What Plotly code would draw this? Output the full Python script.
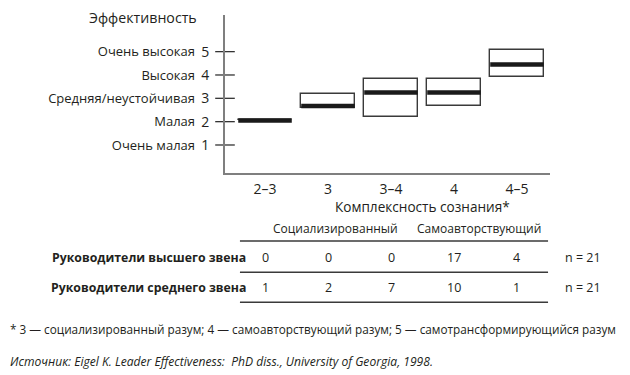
import plotly.graph_objects as go

# ---------------- data ----------------
categories = ["2–3", "3", "3–4", "4", "4–5"]
box_low = [2.05, 2.58, 2.21, 2.68, 3.91]
box_high = [2.05, 3.18, 3.83, 3.83, 5.06]
median = [2.05, 2.67, 3.25, 3.25, 4.45]

level_values = [1, 2, 3, 4, 5]
level_numbers = ["1", "2", "3", "4", "5"]
level_names = ["Очень малая", "Малая", "Средняя/неустойчивая", "Высокая", "Очень высокая"]

y_title = "Эффективность"
x_title = "Комплексность сознания*"

table_groups = ["Социализированный", "Самоавторствующий"]
row_labels = ["Руководители высшего звена", "Руководители среднего звена"]
senior_counts = [0, 0, 0, 17, 4]
middle_counts = [1, 2, 7, 10, 1]
n_labels = ["n = 21", "n = 21"]

footnote = "* 3 — социализированный разум; 4 — самоавторствующий разум; 5 — самотрансформирующийся разум"
source = "Источник: Eigel K. Leader Effectiveness:  PhD diss., University of Georgia, 1998."

# ---------------- style ----------------
FONT = "Open Sans"
TXT = "#231f20"
AXIS = "#7f7f7f"
BOX_W = 0.85
X_RANGE = [-0.635, 4.524]
Y_RANGE = [-0.2, 6.57]

idx = list(range(len(categories)))

fig = go.Figure()

# boxes
fig.add_trace(go.Bar(
    x=idx, y=[h - l for h, l in zip(box_high, box_low)], base=box_low,
    width=BOX_W, marker=dict(color="white", line=dict(color="#3a3a3a", width=1.4)),
    showlegend=False, hoverinfo="skip",
))

# median bars
mx, my = [], []
for i, m in zip(idx, median):
    mx += [i - BOX_W / 2, i + BOX_W / 2, None]
    my += [m, m, None]
fig.add_trace(go.Scatter(x=mx, y=my, mode="lines",
                         line=dict(color="#1a1a1a", width=4.5),
                         showlegend=False, hoverinfo="skip"))

# tick marks crossing the y axis
fig.add_trace(go.Scatter(
    x=[X_RANGE[0]] * len(level_values), y=level_values, mode="markers",
    marker=dict(symbol="line-ew", size=14, line=dict(color="#333333", width=1.3)),
    cliponaxis=False, showlegend=False, hoverinfo="skip", yaxis="y2",
))

# arrow head on the y axis
fig.add_trace(go.Scatter(
    x=[X_RANGE[0]], y=[6.6], mode="markers",
    marker=dict(symbol="triangle-up", size=10, color="#111111"),
    cliponaxis=False, showlegend=False, hoverinfo="skip",
))

annotations = []
def ann(text, x, y, xref="paper", yref="paper", xanchor="center", size=13,
        bold=False, italic=False):
    t = text
    if bold:
        t = "<b>" + t + "</b>"
    if italic:
        t = "<i>" + t + "</i>"
    annotations.append(dict(text=t, x=x, y=y, xref=xref, yref=yref,
                            xanchor=xanchor, yanchor="middle", showarrow=False,
                            borderpad=0,
                            font=dict(family=FONT, size=size, color=TXT)))

# titles
ann(y_title, -0.252, 0.984, size=14.2)
ann(x_title, 0.608, -0.209, size=13.6)

# table
ann(table_groups[0], 0.34, -0.354, size=12)
ann(table_groups[1], 0.783, -0.354, size=12)
row_y = [-0.535, -0.725]
for r, (lab, vals) in enumerate(zip(row_labels, [senior_counts, middle_counts])):
    ann(lab, 0.068, row_y[r], xanchor="right", size=12.3, bold=True)
    for i, v in zip(idx, vals):
        ann(str(v), i, row_y[r], xref="x", size=12.5)
    ann(n_labels[r], 1.1, row_y[r], size=12.5)

ann(footnote, -0.664, -0.989, xanchor="left", size=11.75)
ann(source, -0.664, -1.194, xanchor="left", size=12.1, italic=True)

shapes = []
for ly in [-0.430, -0.628, -0.818]:
    shapes.append(dict(type="line", xref="paper", yref="paper",
                       x0=0.046, x1=0.994, y0=ly, y1=ly,
                       line=dict(color="#3a3a3a", width=1.4)))

fig.update_layout(
    width=630, height=375,
    margin=dict(l=217, r=88, t=7, b=210, pad=0),
    paper_bgcolor="white", plot_bgcolor="white",
    font=dict(family=FONT, size=14, color=TXT),
    showlegend=False,
    bargap=0,
    xaxis=dict(range=X_RANGE, tickvals=idx, ticktext=categories,
               showline=True, linecolor=AXIS, linewidth=2, ticks="",
               showgrid=False, zeroline=False, ticklabelstandoff=2,
               tickfont=dict(size=14, color=TXT), fixedrange=True),
    yaxis=dict(range=Y_RANGE, tickvals=level_values, ticktext=level_numbers,
               showline=True, linecolor=AXIS, linewidth=2, ticks="",
               showgrid=False, zeroline=False, ticklabelstandoff=11,
               tickfont=dict(size=14, color=TXT), fixedrange=True),
    yaxis2=dict(range=Y_RANGE, overlaying="y", side="left", anchor="x",
                tickvals=level_values, ticktext=level_names,
                showline=False, ticks="", showgrid=False, zeroline=False,
                ticklabelstandoff=29, tickfont=dict(size=13, color=TXT),
                fixedrange=True),
    annotations=annotations,
    shapes=shapes,
)

fig.write_html("out.html")
